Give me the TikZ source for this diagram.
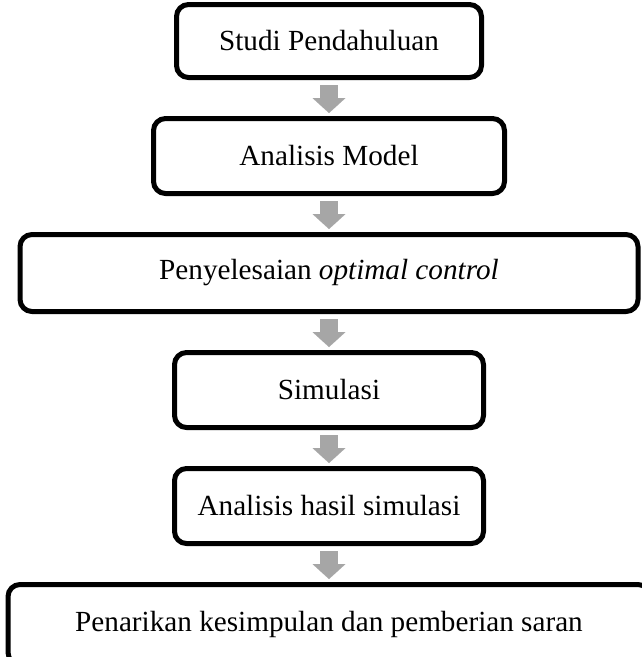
\documentclass[tikz,border=0pt]{standalone}
\usepackage{fontspec}
\setmainfont{Liberation Serif}
\usetikzlibrary{positioning,arrows.meta}
\definecolor{arrowgray}{HTML}{A6A6A6}
\begin{document}
\begin{tikzpicture}[node distance=36pt, line join=round, font=\fontsize{29.2}{35}\selectfont]
            \tikzset{stage/.style={draw, line width=5pt, rounded corners=12pt, minimum height=75pt, align=center},
                flow/.style={draw=arrowgray, line width=18pt, shorten <=5pt, shorten >=3pt,
                    -{Triangle[width=33pt,length=15pt,line width=0.01pt]}}}
            \useasboundingbox (0,0) rectangle (642pt,-657pt);
            \clip (0,0) rectangle (642pt,-657pt);
            \node[stage, minimum width=305pt, minimum height=73pt] (studi) at (329pt,-41pt) {Studi Pendahuluan};
            \node[stage, minimum width=351pt, below=of studi] (model) {Analisis Model};
            \node[stage, minimum width=618pt, minimum height=77pt, below=of model] (kontrol) {Penyelesaian \textit{optimal control}};
            \node[stage, minimum width=309pt, below=of kontrol] (simulasi) {Simulasi};
            \node[stage, minimum width=309pt, below=of simulasi] (hasil) {Analisis hasil simulasi};
            \node[stage, minimum width=642pt, minimum height=80pt, below=of hasil] (saran) {Penarikan kesimpulan dan pemberian saran};
            \draw[flow] (studi) -- (model);
            \draw[flow] (model) -- (kontrol);
            \draw[flow] (kontrol) -- (simulasi);
            \draw[flow] (simulasi) -- (hasil);
            \draw[flow] (hasil) -- (saran);
        \end{tikzpicture}
\end{document}
